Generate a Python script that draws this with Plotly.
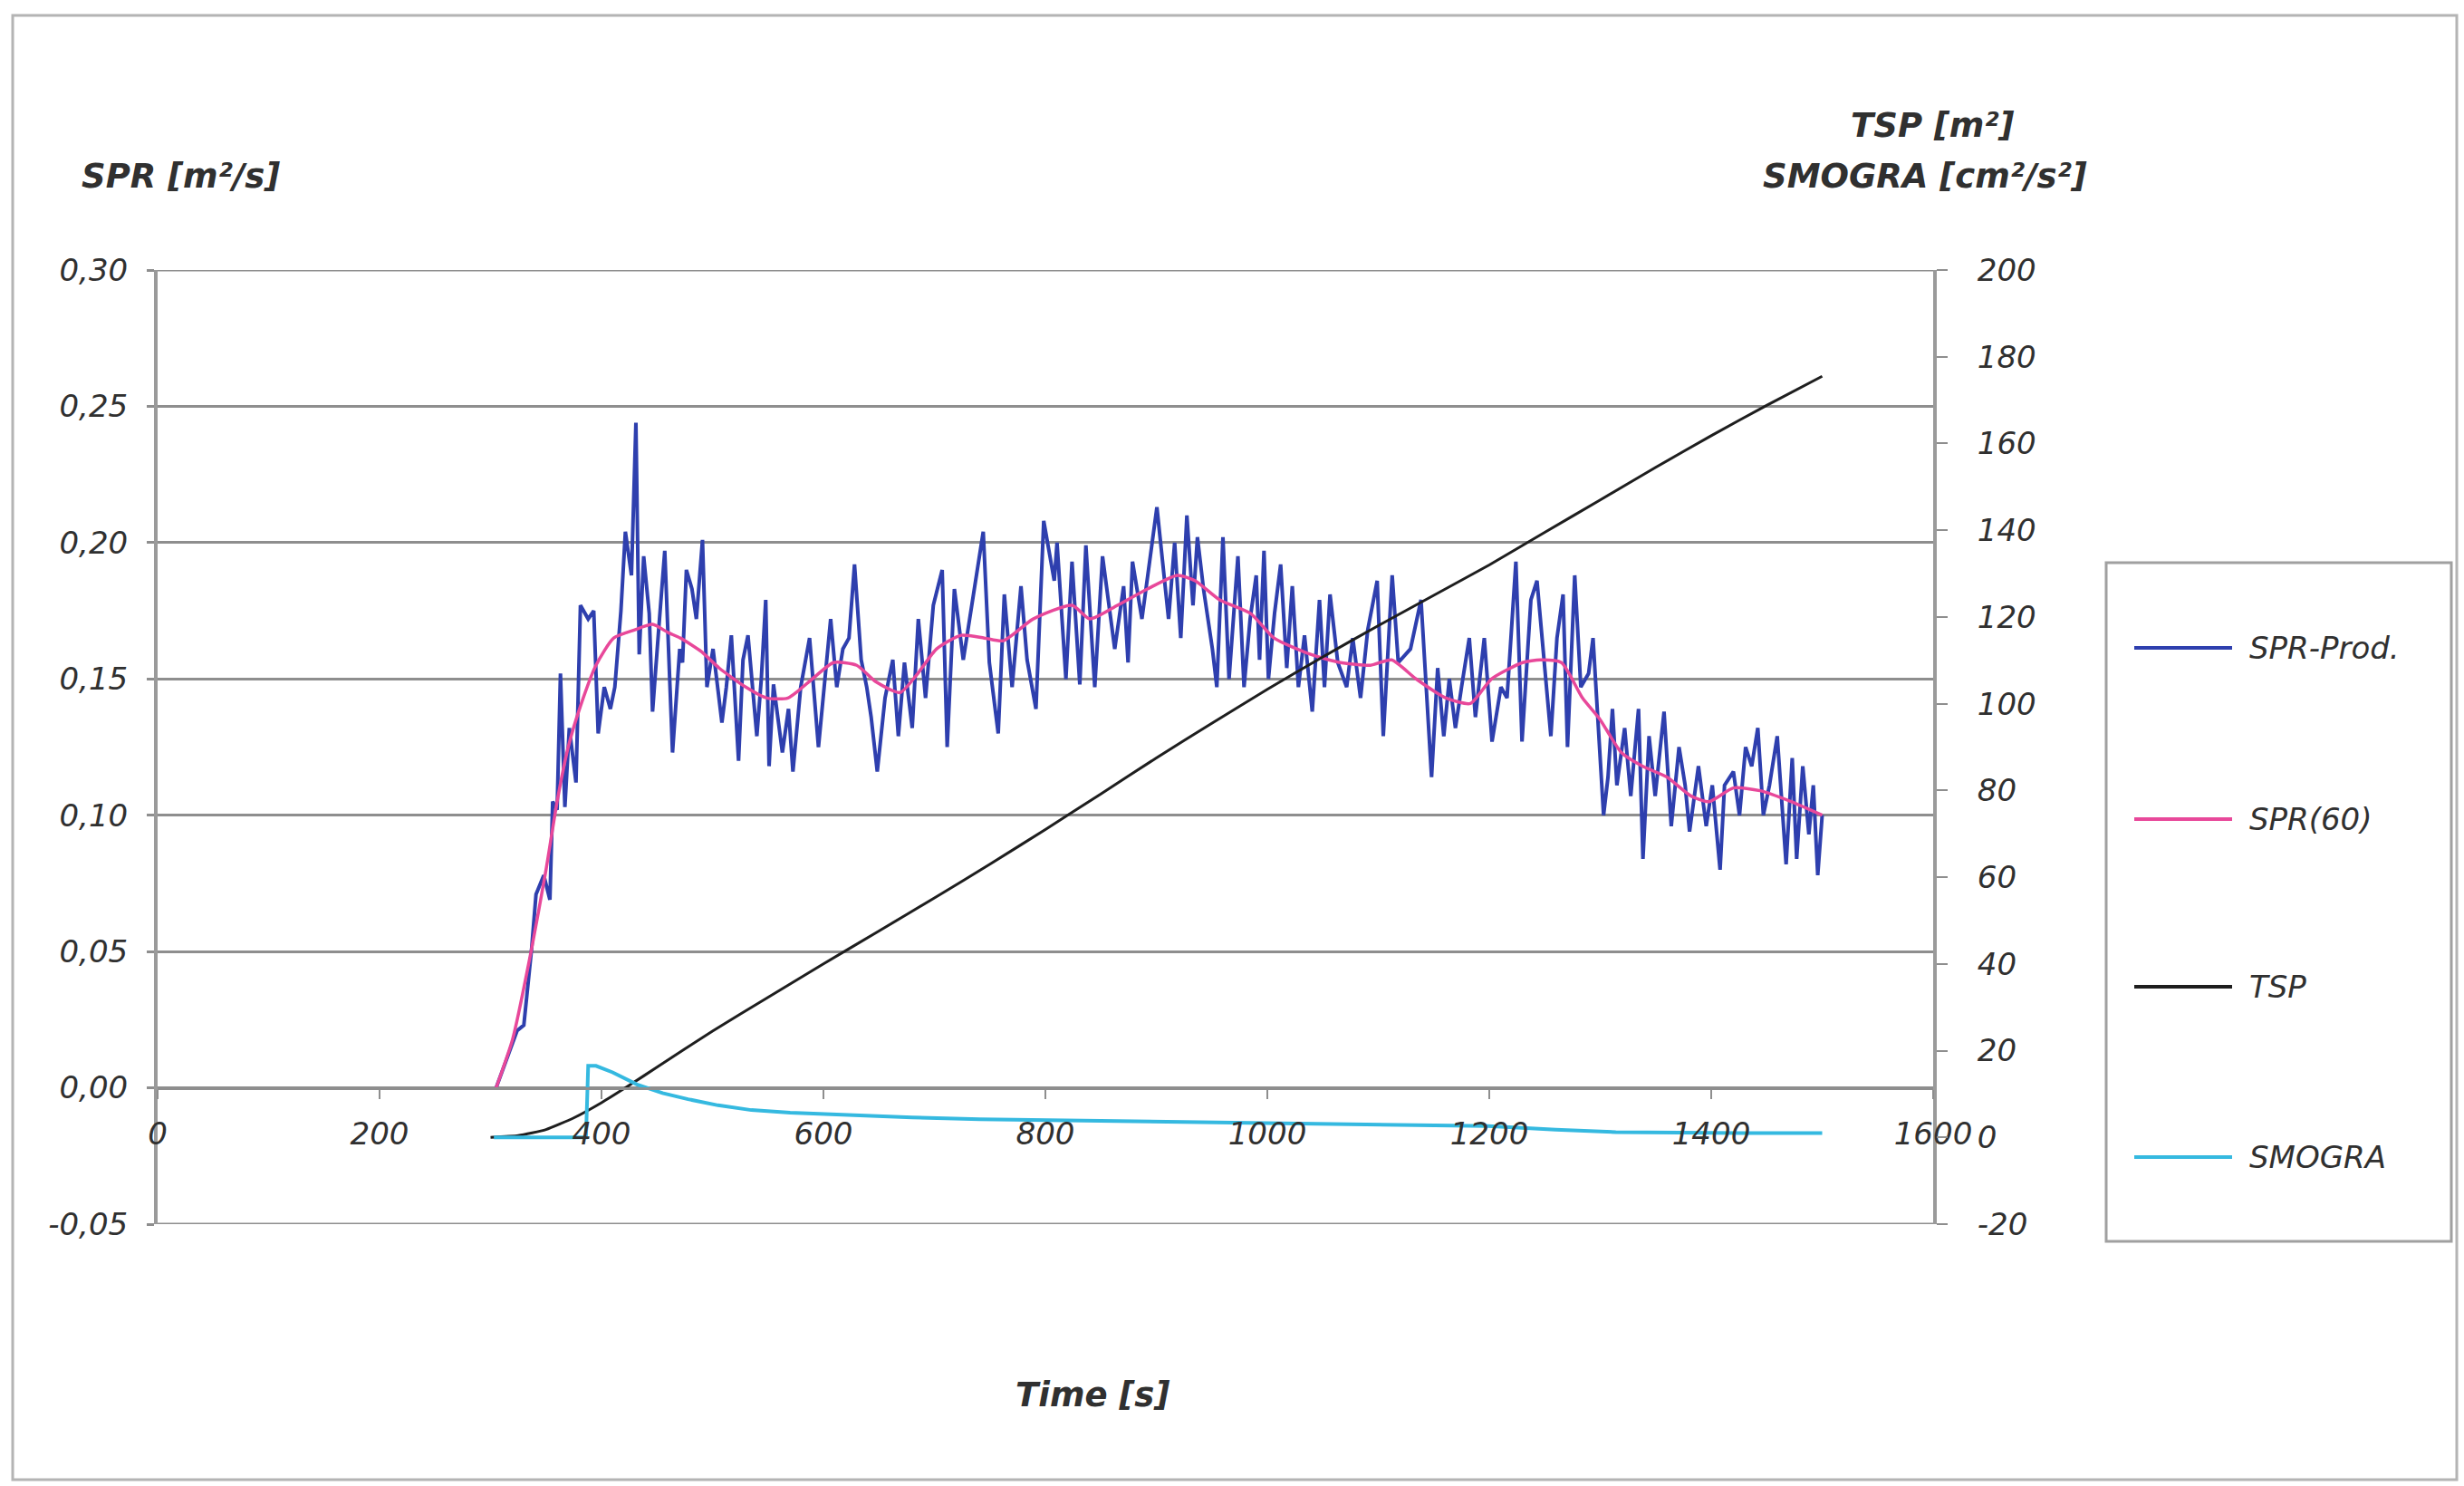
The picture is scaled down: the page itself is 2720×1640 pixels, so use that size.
import plotly.graph_objects as go

# ---------------------------------------------------------------- data
# SPR-Prod. : smoke production rate [m2/s] vs time [s]
spr_time = [
    305, 318, 324, 330, 337, 341, 348, 353.5, 356, 360,
    363, 367, 371, 377, 381, 388, 393, 397, 402.5, 408,
    412, 417.5, 421.5, 427, 431, 434, 438, 443, 446, 451.5,
    457, 464, 470.5, 473, 476.5, 481.5, 485.5, 491, 495, 500.5,
    508.5, 512.5, 517, 523.5, 527.5, 532, 540, 544, 548, 551,
    555, 563, 568.5, 572.5, 579.5, 587.5, 595.5, 606.5, 612, 617.5,
    623, 628, 634, 639, 643, 648.5, 655.5, 662.5, 667.5, 673,
    680, 685.5, 692, 699, 707, 711.5, 718, 726, 734.5, 744,
    749.5, 757.5, 763, 770, 778, 783.5, 791.5, 798.5, 808, 810.5,
    818.5, 824, 831, 836.5, 844.5, 851.5, 862.5, 870.5, 874.5, 878.5,
    887, 892, 900.5, 911, 916.5, 922, 927.5, 933, 937, 942.5,
    950.5, 954.5, 960, 965.5, 973.5, 979, 984.5, 990, 993, 997,
    1001, 1006.5, 1012, 1017.5, 1022.5, 1028, 1033.5, 1040.5, 1047, 1051.5,
    1056.5, 1063.5, 1071.5, 1077, 1084, 1090.5, 1099, 1104.5, 1112.5, 1118,
    1129, 1138.5, 1148, 1153.5, 1159, 1164, 1169.5, 1175, 1182, 1187.5,
    1195.5, 1202.5, 1210.5, 1216, 1224, 1229.5, 1237.5, 1243, 1248.5, 1255.5,
    1261, 1266.5, 1270.5, 1277, 1282.5, 1289.5, 1293.5, 1299, 1303, 1307,
    1311, 1315, 1322, 1327.5, 1334.5, 1338.5, 1344, 1349.5, 1357.5, 1364,
    1371, 1376.5, 1380.5, 1388.5, 1395.5, 1401, 1408, 1412, 1420, 1425.5,
    1431, 1436.5, 1442, 1447, 1452.5, 1459.5, 1467.5, 1473, 1477, 1482.5,
    1488, 1492, 1496, 1500,
]
spr_prod = [
    0.000, 0.014, 0.021, 0.023, 0.051, 0.071, 0.078, 0.069, 0.105, 0.102,
    0.152, 0.103, 0.132, 0.112, 0.177, 0.172, 0.175, 0.130, 0.147, 0.139,
    0.147, 0.175, 0.204, 0.188, 0.244, 0.159, 0.195, 0.174, 0.138, 0.168,
    0.197, 0.123, 0.161, 0.156, 0.190, 0.183, 0.172, 0.201, 0.147, 0.161,
    0.134, 0.147, 0.166, 0.120, 0.157, 0.166, 0.129, 0.150, 0.179, 0.118,
    0.148, 0.123, 0.139, 0.116, 0.147, 0.165, 0.125, 0.172, 0.147, 0.161,
    0.165, 0.192, 0.157, 0.147, 0.136, 0.116, 0.143, 0.157, 0.129, 0.156,
    0.132, 0.172, 0.143, 0.177, 0.190, 0.125, 0.183, 0.157, 0.179, 0.204,
    0.156, 0.130, 0.181, 0.147, 0.184, 0.157, 0.139, 0.208, 0.186, 0.200,
    0.150, 0.193, 0.148, 0.199, 0.147, 0.195, 0.161, 0.184, 0.156, 0.193,
    0.172, 0.188, 0.213, 0.172, 0.200, 0.165, 0.210, 0.177, 0.202, 0.183,
    0.161, 0.147, 0.202, 0.150, 0.195, 0.147, 0.172, 0.188, 0.157, 0.197,
    0.150, 0.174, 0.192, 0.154, 0.184, 0.147, 0.166, 0.138, 0.179, 0.147,
    0.181, 0.156, 0.147, 0.165, 0.143, 0.168, 0.186, 0.129, 0.188, 0.156,
    0.161, 0.179, 0.114, 0.154, 0.129, 0.150, 0.132, 0.147, 0.165, 0.136,
    0.165, 0.127, 0.147, 0.143, 0.193, 0.127, 0.179, 0.186, 0.161, 0.129,
    0.165, 0.181, 0.125, 0.188, 0.147, 0.152, 0.165, 0.129, 0.100, 0.114,
    0.139, 0.111, 0.132, 0.107, 0.139, 0.084, 0.129, 0.107, 0.138, 0.096,
    0.125, 0.111, 0.094, 0.118, 0.096, 0.111, 0.080, 0.111, 0.116, 0.100,
    0.125, 0.118, 0.132, 0.100, 0.111, 0.129, 0.082, 0.121, 0.084, 0.118,
    0.093, 0.111, 0.078, 0.100,
]

# SPR(60) : 60 s running average of the smoke production rate [m2/s]
spr60_time = [
    305, 320, 337, 350, 360, 370, 381, 395, 411, 430,
    446, 460, 471, 490, 506, 530, 549, 568, 590, 609,
    630, 647, 669, 685, 702, 724, 745, 762, 789, 824,
    840, 865, 892, 919, 935, 957, 985, 1006, 1039, 1066,
    1093, 1112, 1134, 1161, 1183, 1202, 1230, 1246, 1265, 1284,
    1300, 1319, 1338, 1360, 1382, 1398, 1420, 1444, 1472, 1500,
]
spr60 = [
    0.000, 0.018, 0.051, 0.080, 0.105, 0.125, 0.140, 0.155, 0.165, 0.168,
    0.170, 0.167, 0.165, 0.160, 0.154, 0.147, 0.143, 0.143, 0.150, 0.156,
    0.155, 0.149, 0.145, 0.152, 0.161, 0.166, 0.165, 0.164, 0.172, 0.177,
    0.172, 0.177, 0.183, 0.188, 0.186, 0.179, 0.174, 0.165, 0.159, 0.156,
    0.155, 0.157, 0.150, 0.143, 0.141, 0.150, 0.156, 0.157, 0.156, 0.143,
    0.135, 0.123, 0.118, 0.114, 0.107, 0.105, 0.110, 0.109, 0.105, 0.100,
]

# TSP : total smoke production [m2]
tsp_time = [300, 325, 350, 375, 400, 425, 450, 500, 550, 600,
            650, 700, 750, 800, 850, 900, 950, 1000, 1050, 1100,
            1150, 1200, 1250, 1300, 1350, 1400, 1450, 1500]
tsp = [0.0, 0.4, 1.8, 4.5, 8.0, 12.0, 16.2, 24.5, 32.3, 40.0,
       47.6, 55.2, 63.0, 71.0, 79.2, 87.5, 95.5, 103.3, 110.8, 118.0,
       125.0, 132.0, 139.5, 147.0, 154.5, 161.8, 168.8, 175.5]

# SMOGRA : smoke growth rate index [cm2/s2]
smogra_time = [303, 386, 388, 395, 410, 432, 455, 478, 505, 535, 570, 604,
               680, 741, 800, 856, 950, 1085, 1199, 1260, 1314, 1428, 1500]
smogra = [0.0, 0.0, 16.5, 16.5, 15.0, 12.2, 10.2, 8.8, 7.4, 6.3, 5.7, 5.3,
          4.6, 4.2, 4.0, 3.8, 3.4, 3.1, 2.6, 1.8, 1.2, 1.0, 1.0]

# axis ticks
time_ticks = [0, 200, 400, 600, 800, 1000, 1200, 1400, 1600]
time_labels = ["0", "200", "400", "600", "800", "1000", "1200", "1400", "1600"]
spr_ticks = [-0.05, 0.00, 0.05, 0.10, 0.15, 0.20, 0.25, 0.30]
spr_labels = ["-0,05", "0,00", "0,05", "0,10", "0,15", "0,20", "0,25", "0,30"]
right_ticks = [-20, 0, 20, 40, 60, 80, 100, 120, 140, 160, 180, 200]
right_labels = ["-20", "0", "20", "40", "60", "80", "100", "120", "140",
                "160", "180", "200"]

series_names = ["SPR-Prod.", "SPR(60)", "TSP", "SMOGRA"]
series_colors = ["#2e3fae", "#e8489a", "#1e1e1e", "#35b9e0"]

assert len(spr_time) == len(spr_prod)
assert len(spr60_time) == len(spr60)
assert len(tsp_time) == len(tsp)
assert len(smogra_time) == len(smogra)

# ---------------------------------------------------------------- geometry
W, H = 2720, 1640
PL, PR, PT, PB = 174, 2134, 298, 1351   # plot box in page pixels


def px(x):
    return (x - PL) / (PR - PL)


def py(y):
    return (PB - y) / (PB - PT)


FONT = "DejaVu Sans"
TXT = "#303030"
GRID = "#8e8e8e"
AXIS = "#9a9a9a"
tick_font = dict(family=FONT, size=34, color=TXT, style="italic")

# ---------------------------------------------------------------- traces
fig = go.Figure()
fig.add_trace(go.Scatter(x=spr_time, y=spr_prod, name=series_names[0],
                         mode="lines", yaxis="y",
                         line=dict(color=series_colors[0], width=4)))
fig.add_trace(go.Scatter(x=spr60_time, y=spr60, name=series_names[1],
                         mode="lines", yaxis="y",
                         line=dict(color=series_colors[1], width=3.5,
                                   shape="spline", smoothing=0.6)))
fig.add_trace(go.Scatter(x=tsp_time, y=tsp, name=series_names[2],
                         mode="lines", yaxis="y2",
                         line=dict(color=series_colors[2], width=3,
                                   shape="spline", smoothing=0.5)))
fig.add_trace(go.Scatter(x=smogra_time, y=smogra, name=series_names[3],
                         mode="lines", yaxis="y2",
                         line=dict(color=series_colors[3], width=4)))

# ---------------------------------------------------------------- annotations
ann = [
    dict(text="SPR [m²/s]", x=px(199), y=py(194)),
    dict(text="TSP [m²]", x=px(2133), y=py(139)),
    dict(text="SMOGRA [cm²/s²]", x=px(2125), y=py(194)),
    dict(text="Time [s]", x=px(1206), y=py(1539)),
]
annotations = []
for a in ann:
    annotations.append(dict(
        text=a["text"], x=a["x"], y=a["y"], xref="paper", yref="paper",
        xanchor="center", yanchor="middle", showarrow=False,
        font=dict(family=FONT, size=37, color=TXT, style="italic",
                  weight="bold")))

shapes = [
    # outer frame of the chart
    dict(type="rect", xref="paper", yref="paper",
         x0=px(14), x1=px(2712), y0=py(1633), y1=py(17),
         line=dict(color="#b4b4b4", width=3), layer="below"),
    # top and bottom grid lines of the SPR axis
    dict(type="line", xref="paper", yref="y", x0=0, x1=1,
         y0=0.30, y1=0.30, line=dict(color=GRID, width=3), layer="below"),
    dict(type="line", xref="paper", yref="y", x0=0, x1=1,
         y0=-0.05, y1=-0.05, line=dict(color=GRID, width=3), layer="below"),
    # legend box
    dict(type="rect", xref="paper", yref="paper",
         x0=px(2325), x1=px(2706), y0=py(1370), y1=py(621),
         line=dict(color="#a0a0a0", width=3), fillcolor="white"),
]

legend_rows = [715, 904, 1089, 1277]
for name, color, row in zip(series_names, series_colors, legend_rows):
    shapes.append(dict(type="line", xref="paper", yref="paper",
                       x0=px(2356), x1=px(2464), y0=py(row), y1=py(row),
                       line=dict(color=color, width=4)))
    annotations.append(dict(
        text=name, x=px(2481), y=py(row), xref="paper", yref="paper",
        xanchor="left", yanchor="middle", showarrow=False,
        font=dict(family=FONT, size=34, color=TXT, style="italic")))

# ---------------------------------------------------------------- layout
x_pos = 0.05 / 0.35   # time axis drawn where SPR = 0

fig.update_layout(
    width=W, height=H,
    margin=dict(l=PL, r=W - PR, t=PT, b=H - PB, pad=0),
    paper_bgcolor="white", plot_bgcolor="white",
    showlegend=False,
    annotations=annotations,
    shapes=shapes,
    xaxis=dict(
        range=[0, 1600], anchor="free", position=x_pos,
        tickvals=time_ticks, ticktext=time_labels, tickfont=tick_font,
        showline=True, linecolor=GRID, linewidth=3,
        ticks="outside", ticklen=10, tickwidth=2, tickcolor=GRID,
        ticklabelstandoff=10,
        showgrid=False, zeroline=False,
    ),
    xaxis2=dict(
        range=[0, 1600], overlaying="x", anchor="free", position=x_pos,
        tickvals=time_ticks, showticklabels=False,
        ticks="inside", ticklen=10, tickwidth=2, tickcolor=GRID,
        showline=False, showgrid=False, zeroline=False,
    ),
    yaxis=dict(
        range=[-0.05, 0.30], tickvals=spr_ticks, ticktext=spr_labels,
        tickfont=tick_font,
        showgrid=True, gridcolor=GRID, gridwidth=3,
        showline=True, linecolor=AXIS, linewidth=4,
        ticks="outside", ticklen=8, tickwidth=3, tickcolor=GRID,
        ticklabelstandoff=14,
        zeroline=False,
    ),
    yaxis2=dict(
        range=[-20, 200], overlaying="y", side="right", anchor="x",
        tickvals=right_ticks, ticktext=right_labels, tickfont=tick_font,
        showgrid=False, zeroline=False,
        showline=True, linecolor=AXIS, linewidth=4,
        ticks="outside", ticklen=12, tickwidth=2, tickcolor=GRID,
        ticklabelstandoff=26,
    ),
    yaxis3=dict(
        range=[-20, 200], overlaying="y", side="right", anchor="x",
        tickvals=right_ticks, showticklabels=False,
        showgrid=False, zeroline=False, showline=False,
        ticks="inside", ticklen=12, tickwidth=2, tickcolor=GRID,
    ),
)

fig.write_html("out.html")
